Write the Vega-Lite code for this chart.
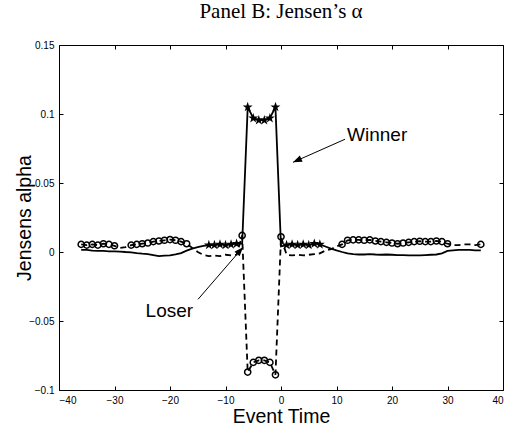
{
  "$schema": "https://vega.github.io/schema/vega-lite/v6.json",
  "width": 444,
  "height": 345,
  "autosize": "none",
  "padding": {"left": 59, "top": 45, "right": 14, "bottom": 38},
  "title": {"text": "Panel B: Jensen’s α", "font": "Liberation Serif", "fontSize": 21, "fontWeight": "normal", "color": "black", "offset": 18, "anchor": "middle"},
  "datasets": {
    "series": [
      {"s": "Winner", "t": -36, "v": 0.0015, "m": "none"},
      {"s": "Winner", "t": -35, "v": 0.0015, "m": "none"},
      {"s": "Winner", "t": -34, "v": 0.001, "m": "none"},
      {"s": "Winner", "t": -33, "v": 0.0008, "m": "none"},
      {"s": "Winner", "t": -32, "v": 0.0008, "m": "none"},
      {"s": "Winner", "t": -31, "v": 0.0005, "m": "none"},
      {"s": "Winner", "t": -30, "v": 0.0005, "m": "none"},
      {"s": "Winner", "t": -29, "v": 0.0003, "m": "none"},
      {"s": "Winner", "t": -28, "v": 0.0, "m": "none"},
      {"s": "Winner", "t": -27, "v": -0.0002, "m": "none"},
      {"s": "Winner", "t": -26, "v": -0.0008, "m": "none"},
      {"s": "Winner", "t": -25, "v": -0.0012, "m": "none"},
      {"s": "Winner", "t": -24, "v": -0.0015, "m": "none"},
      {"s": "Winner", "t": -23, "v": -0.0022, "m": "none"},
      {"s": "Winner", "t": -22, "v": -0.003, "m": "none"},
      {"s": "Winner", "t": -21, "v": -0.0027, "m": "none"},
      {"s": "Winner", "t": -20, "v": -0.0025, "m": "none"},
      {"s": "Winner", "t": -19, "v": -0.0018, "m": "none"},
      {"s": "Winner", "t": -18, "v": -0.0008, "m": "none"},
      {"s": "Winner", "t": -17, "v": 0.001, "m": "none"},
      {"s": "Winner", "t": -16, "v": 0.0025, "m": "none"},
      {"s": "Winner", "t": -15, "v": 0.0035, "m": "none"},
      {"s": "Winner", "t": -14, "v": 0.0045, "m": "none"},
      {"s": "Winner", "t": -13, "v": 0.005, "m": "star"},
      {"s": "Winner", "t": -12, "v": 0.005, "m": "star"},
      {"s": "Winner", "t": -11, "v": 0.0055, "m": "star"},
      {"s": "Winner", "t": -10, "v": 0.005, "m": "star"},
      {"s": "Winner", "t": -9, "v": 0.0055, "m": "star"},
      {"s": "Winner", "t": -8, "v": 0.006, "m": "star"},
      {"s": "Winner", "t": -7, "v": 0.006, "m": "none"},
      {"s": "Winner", "t": -6, "v": 0.105, "m": "star"},
      {"s": "Winner", "t": -5, "v": 0.097, "m": "star"},
      {"s": "Winner", "t": -4, "v": 0.0955, "m": "star"},
      {"s": "Winner", "t": -3, "v": 0.0955, "m": "star"},
      {"s": "Winner", "t": -2, "v": 0.097, "m": "star"},
      {"s": "Winner", "t": -1, "v": 0.105, "m": "star"},
      {"s": "Winner", "t": 0, "v": 0.004, "m": "none"},
      {"s": "Winner", "t": 1, "v": 0.005, "m": "star"},
      {"s": "Winner", "t": 2, "v": 0.0055, "m": "star"},
      {"s": "Winner", "t": 3, "v": 0.005, "m": "star"},
      {"s": "Winner", "t": 4, "v": 0.0055, "m": "star"},
      {"s": "Winner", "t": 5, "v": 0.005, "m": "star"},
      {"s": "Winner", "t": 6, "v": 0.006, "m": "star"},
      {"s": "Winner", "t": 7, "v": 0.0055, "m": "star"},
      {"s": "Winner", "t": 8, "v": 0.004, "m": "none"},
      {"s": "Winner", "t": 9, "v": 0.0025, "m": "none"},
      {"s": "Winner", "t": 10, "v": 0.0012, "m": "none"},
      {"s": "Winner", "t": 11, "v": 0.0, "m": "none"},
      {"s": "Winner", "t": 12, "v": -0.001, "m": "none"},
      {"s": "Winner", "t": 13, "v": -0.0015, "m": "none"},
      {"s": "Winner", "t": 14, "v": -0.0018, "m": "none"},
      {"s": "Winner", "t": 15, "v": -0.0018, "m": "none"},
      {"s": "Winner", "t": 16, "v": -0.0015, "m": "none"},
      {"s": "Winner", "t": 17, "v": -0.0018, "m": "none"},
      {"s": "Winner", "t": 18, "v": -0.002, "m": "none"},
      {"s": "Winner", "t": 19, "v": -0.0018, "m": "none"},
      {"s": "Winner", "t": 20, "v": -0.002, "m": "none"},
      {"s": "Winner", "t": 21, "v": -0.0022, "m": "none"},
      {"s": "Winner", "t": 22, "v": -0.0022, "m": "none"},
      {"s": "Winner", "t": 23, "v": -0.0025, "m": "none"},
      {"s": "Winner", "t": 24, "v": -0.0025, "m": "none"},
      {"s": "Winner", "t": 25, "v": -0.0025, "m": "none"},
      {"s": "Winner", "t": 26, "v": -0.0022, "m": "none"},
      {"s": "Winner", "t": 27, "v": -0.002, "m": "none"},
      {"s": "Winner", "t": 28, "v": -0.0018, "m": "none"},
      {"s": "Winner", "t": 29, "v": -0.001, "m": "none"},
      {"s": "Winner", "t": 30, "v": 0.0008, "m": "none"},
      {"s": "Winner", "t": 31, "v": 0.0012, "m": "none"},
      {"s": "Winner", "t": 32, "v": 0.0015, "m": "none"},
      {"s": "Winner", "t": 33, "v": 0.0015, "m": "none"},
      {"s": "Winner", "t": 34, "v": 0.0015, "m": "none"},
      {"s": "Winner", "t": 35, "v": 0.0012, "m": "none"},
      {"s": "Winner", "t": 36, "v": 0.0012, "m": "none"},
      {"s": "Loser", "t": -36, "v": 0.0055, "m": "circle"},
      {"s": "Loser", "t": -35, "v": 0.005, "m": "circle"},
      {"s": "Loser", "t": -34, "v": 0.0055, "m": "circle"},
      {"s": "Loser", "t": -33, "v": 0.005, "m": "circle"},
      {"s": "Loser", "t": -32, "v": 0.006, "m": "circle"},
      {"s": "Loser", "t": -31, "v": 0.0055, "m": "circle"},
      {"s": "Loser", "t": -30, "v": 0.0045, "m": "circle"},
      {"s": "Loser", "t": -29, "v": 0.003, "m": "none"},
      {"s": "Loser", "t": -28, "v": 0.0035, "m": "none"},
      {"s": "Loser", "t": -27, "v": 0.005, "m": "circle"},
      {"s": "Loser", "t": -26, "v": 0.0055, "m": "circle"},
      {"s": "Loser", "t": -25, "v": 0.006, "m": "circle"},
      {"s": "Loser", "t": -24, "v": 0.0065, "m": "circle"},
      {"s": "Loser", "t": -23, "v": 0.0075, "m": "circle"},
      {"s": "Loser", "t": -22, "v": 0.008, "m": "circle"},
      {"s": "Loser", "t": -21, "v": 0.0085, "m": "circle"},
      {"s": "Loser", "t": -20, "v": 0.009, "m": "circle"},
      {"s": "Loser", "t": -19, "v": 0.0085, "m": "circle"},
      {"s": "Loser", "t": -18, "v": 0.0075, "m": "circle"},
      {"s": "Loser", "t": -17, "v": 0.006, "m": "circle"},
      {"s": "Loser", "t": -16, "v": 0.003, "m": "none"},
      {"s": "Loser", "t": -15, "v": 0.0, "m": "none"},
      {"s": "Loser", "t": -14, "v": -0.002, "m": "none"},
      {"s": "Loser", "t": -13, "v": -0.003, "m": "none"},
      {"s": "Loser", "t": -12, "v": -0.0025, "m": "none"},
      {"s": "Loser", "t": -11, "v": -0.003, "m": "none"},
      {"s": "Loser", "t": -10, "v": -0.002, "m": "none"},
      {"s": "Loser", "t": -9, "v": -0.0025, "m": "none"},
      {"s": "Loser", "t": -8, "v": -0.002, "m": "none"},
      {"s": "Loser", "t": -7, "v": 0.012, "m": "circle"},
      {"s": "Loser", "t": -6, "v": -0.087, "m": "circle"},
      {"s": "Loser", "t": -5, "v": -0.08, "m": "circle"},
      {"s": "Loser", "t": -4, "v": -0.0785, "m": "circle"},
      {"s": "Loser", "t": -3, "v": -0.0785, "m": "circle"},
      {"s": "Loser", "t": -2, "v": -0.08, "m": "circle"},
      {"s": "Loser", "t": -1, "v": -0.089, "m": "circle"},
      {"s": "Loser", "t": 0, "v": 0.011, "m": "circle"},
      {"s": "Loser", "t": 1, "v": -0.002, "m": "none"},
      {"s": "Loser", "t": 2, "v": -0.0025, "m": "none"},
      {"s": "Loser", "t": 3, "v": -0.002, "m": "none"},
      {"s": "Loser", "t": 4, "v": -0.0025, "m": "none"},
      {"s": "Loser", "t": 5, "v": -0.002, "m": "none"},
      {"s": "Loser", "t": 6, "v": -0.0015, "m": "none"},
      {"s": "Loser", "t": 7, "v": -0.001, "m": "none"},
      {"s": "Loser", "t": 8, "v": 0.001, "m": "none"},
      {"s": "Loser", "t": 9, "v": 0.002, "m": "none"},
      {"s": "Loser", "t": 10, "v": 0.004, "m": "none"},
      {"s": "Loser", "t": 11, "v": 0.0055, "m": "circle"},
      {"s": "Loser", "t": 12, "v": 0.0085, "m": "circle"},
      {"s": "Loser", "t": 13, "v": 0.0088, "m": "circle"},
      {"s": "Loser", "t": 14, "v": 0.0088, "m": "circle"},
      {"s": "Loser", "t": 15, "v": 0.0085, "m": "circle"},
      {"s": "Loser", "t": 16, "v": 0.0088, "m": "circle"},
      {"s": "Loser", "t": 17, "v": 0.008, "m": "circle"},
      {"s": "Loser", "t": 18, "v": 0.0075, "m": "circle"},
      {"s": "Loser", "t": 19, "v": 0.007, "m": "circle"},
      {"s": "Loser", "t": 20, "v": 0.0065, "m": "circle"},
      {"s": "Loser", "t": 21, "v": 0.006, "m": "circle"},
      {"s": "Loser", "t": 22, "v": 0.0065, "m": "circle"},
      {"s": "Loser", "t": 23, "v": 0.007, "m": "circle"},
      {"s": "Loser", "t": 24, "v": 0.0075, "m": "circle"},
      {"s": "Loser", "t": 25, "v": 0.0078, "m": "circle"},
      {"s": "Loser", "t": 26, "v": 0.0075, "m": "circle"},
      {"s": "Loser", "t": 27, "v": 0.0075, "m": "circle"},
      {"s": "Loser", "t": 28, "v": 0.008, "m": "circle"},
      {"s": "Loser", "t": 29, "v": 0.0075, "m": "circle"},
      {"s": "Loser", "t": 30, "v": 0.006, "m": "circle"},
      {"s": "Loser", "t": 31, "v": 0.005, "m": "none"},
      {"s": "Loser", "t": 32, "v": 0.005, "m": "none"},
      {"s": "Loser", "t": 33, "v": 0.0055, "m": "none"},
      {"s": "Loser", "t": 34, "v": 0.0055, "m": "none"},
      {"s": "Loser", "t": 35, "v": 0.005, "m": "none"},
      {"s": "Loser", "t": 36, "v": 0.0055, "m": "circle"}
    ],
    "notes": [
      {"label": "Winner", "t": 11.53, "v": 0.0817, "t2": 2.16, "v2": 0.065, "lt": 11.9, "lv": 0.0846},
      {"label": "Loser", "t": -14.95, "v": -0.0343, "t2": -6.85, "v2": 0.0034, "lt": -24.4, "lv": -0.043}
    ]
  },
  "layer": [
    {
      "encoding": {
        "x": {"field": "t", "type": "quantitative", "scale": {"domain": [-40, 40], "nice": false, "zero": false},
              "axis": {"orient": "bottom", "values": [-40, -30, -20, -10, 0, 10, 20, 30, 40], "format": ".0f", "title": "Event Time", "titleY": 32, "titleBaseline": "alphabetic"}},
        "y": {"field": "v", "type": "quantitative", "scale": {"domain": [-0.1, 0.15], "nice": false, "zero": false},
              "axis": {"orient": "left", "values": [-0.1, -0.05, 0, 0.05, 0.1, 0.15], "format": ".2~f", "title": "Jensens alpha", "titleX": -29, "titleY": 172.5, "titleBaseline": "alphabetic", "titleAngle": 270}}
      },
      "layer": [
        {"data": {"name": "series"}, "transform": [{"filter": "datum.s === 'Winner'"}],
         "mark": {"type": "line", "color": "black", "strokeWidth": 1.8}},
        {"data": {"name": "series"}, "transform": [{"filter": "datum.s === 'Loser'"}],
         "mark": {"type": "line", "color": "black", "strokeWidth": 1.8, "strokeDash": [6, 4]}},
        {"data": {"name": "series"}, "transform": [{"filter": "datum.m === 'circle'"}],
         "mark": {"type": "point", "shape": "circle", "filled": false, "stroke": "black", "strokeWidth": 1.5, "size": 38, "opacity": 1}},
        {"data": {"name": "series"}, "transform": [{"filter": "datum.m === 'star'"}],
         "mark": {"type": "point", "shape": "M0,-1L0.2245,-0.309L0.951,-0.309L0.363,0.118L0.588,0.809L0,0.382L-0.588,0.809L-0.363,0.118L-0.951,-0.309L-0.2245,-0.309Z", "filled": true, "color": "black", "size": 110, "opacity": 1}},
        {"data": {"name": "notes"},
         "mark": {"type": "rule", "color": "black", "strokeWidth": 1},
         "encoding": {"x2": {"field": "t2"}, "y2": {"field": "v2"}}},
        {"data": {"name": "notes"}, "transform": [{"filter": "datum.label === 'Winner'"}],
         "mark": {"type": "point", "shape": "M0,0L-0.38,1L0.38,1Z", "filled": true, "color": "black", "size": 324, "angle": 246, "opacity": 1},
         "encoding": {"x": {"field": "t2", "type": "quantitative"}, "y": {"field": "v2", "type": "quantitative"}}},
        {"data": {"name": "notes"}, "transform": [{"filter": "datum.label === 'Loser'"}],
         "mark": {"type": "point", "shape": "M0,0L-0.38,1L0.38,1Z", "filled": true, "color": "black", "size": 324, "angle": 41, "opacity": 1},
         "encoding": {"x": {"field": "t2", "type": "quantitative"}, "y": {"field": "v2", "type": "quantitative"}}},
        {"data": {"name": "notes"},
         "mark": {"type": "text", "align": "left", "baseline": "middle", "font": "Liberation Sans", "fontSize": 19, "color": "black"},
         "encoding": {"x": {"field": "lt", "type": "quantitative"}, "y": {"field": "lv", "type": "quantitative"}, "text": {"field": "label"}}}
      ]
    },
    {
      "data": {"name": "series"},
      "mark": {"type": "point", "opacity": 0},
      "encoding": {
        "x": {"field": "t", "type": "quantitative", "scale": {"domain": [-40, 40], "nice": false, "zero": false},
              "axis": {"orient": "top", "values": [-40, -30, -20, -10, 0, 10, 20, 30, 40], "labels": false, "title": null}},
        "y": {"field": "v", "type": "quantitative", "scale": {"domain": [-0.1, 0.15], "nice": false, "zero": false},
              "axis": {"orient": "right", "values": [-0.1, -0.05, 0, 0.05, 0.1, 0.15], "labels": false, "title": null}}
      }
    }
  ],
  "resolve": {"axis": {"x": "independent", "y": "independent"}},
  "config": {
    "view": {"stroke": null},
    "axis": {"grid": false, "domainColor": "black", "domainWidth": 1, "tickColor": "black", "tickSize": -4, "tickWidth": 1,
             "labelColor": "black", "labelFont": "Liberation Sans", "labelFontSize": 10, "labelPadding": 9,
             "titleFont": "Liberation Sans", "titleFontSize": 19.5, "titleFontWeight": "normal", "titleColor": "black"}
  }
}
